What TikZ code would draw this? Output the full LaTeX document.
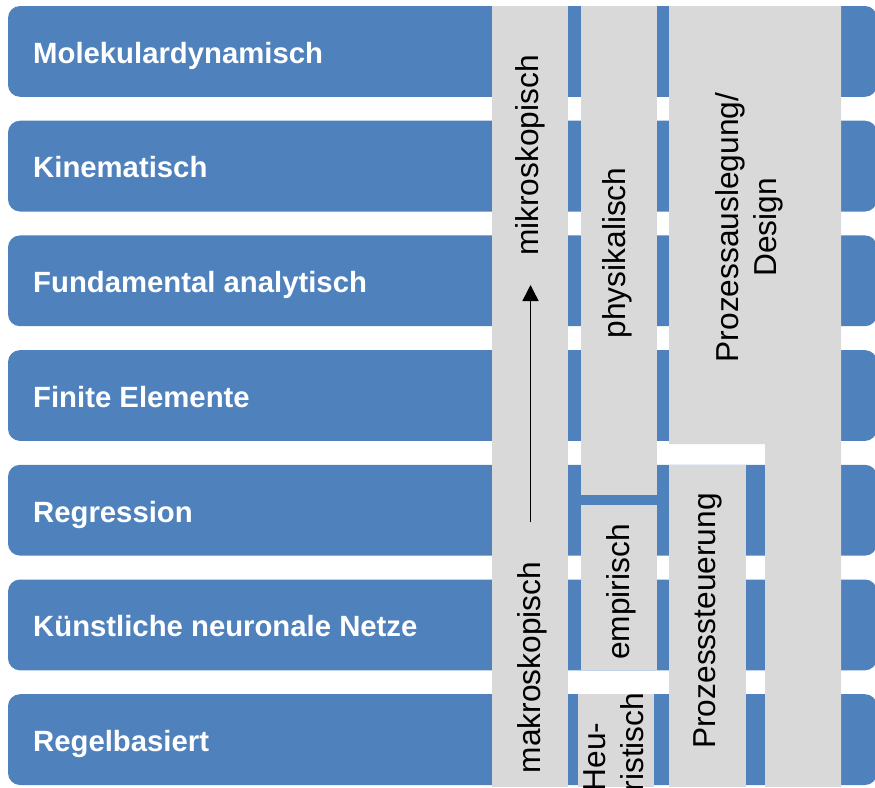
\documentclass[tikz,border=0pt]{standalone}
\usepackage{fontspec}
\setmainfont{Liberation Sans}
\usetikzlibrary{arrows.meta}
\definecolor{barblue}{HTML}{4F81BD}
\definecolor{colgray}{HTML}{D9D9D9}
\begin{document}
\begin{tikzpicture}[x=1pt,y=-1pt,
  bar/.style={fill=barblue, rounded corners=12pt},
  rowlabel/.style={anchor=base west, text=white, inner sep=0pt,
    font=\fontsize{29.3}{35}\selectfont\bfseries},
  graybox/.style={fill=colgray},
  coltext/.style={rotate=90, inner sep=0pt, text=black,
    font=\fontsize{31.7}{38}\selectfont},
  arrowline/.style={line width=1.5pt, -{Triangle[length=16pt,width=16pt]}}]
\useasboundingbox (0,0) rectangle (875,787);
% horizontal bars with labels
\foreach \i/\t in {0/Molekulardynamisch, 1/Kinematisch, 2/Fundamental analytisch,
                   3/Finite Elemente, 4/Regression, 5/Künstliche neuronale Netze,
                   6/Regelbasiert} {
  \pgfmathsetmacro\ytopv{6+114.7*\i}
  \fill[bar] (8,\ytopv) rectangle (877,\ytopv+90.8);
  \node[rowlabel] (row\i) at (33,\ytopv+57.2) {\t};
}
% gray columns
\fill[graybox] (492,6) rectangle (568,787);
\fill[graybox] (581,6) rectangle (657,495);
\fill[graybox] (581,505) rectangle (657,670);
\fill[graybox] (578,694) rectangle (654,787);
\fill[graybox] (669,6) -- (841,6) -- (841,787) -- (765,787) -- (765,444) -- (669,444) -- cycle;
\fill[graybox] (669,465) rectangle (746,787);
% column texts
\node[coltext, anchor=base] (mikro) at (538.5,155.5) {mikroskopisch};
\node[coltext, anchor=base] (makro) at (540,667.5) {makroskopisch};
\node[coltext, anchor=base] (phys) at (625,253) {physikalisch};
\node[coltext, anchor=base] (emp) at (629,592) {empirisch};
\node[coltext, anchor=base] (steu) at (715,621) {Prozesssteuerung};
\node[coltext, align=center, anchor=center] (ausl) at (749,227.5) {Prozessauslegung/\\Design};
\node[coltext, align=left, anchor=center] (heur) at (614,742) {Heu-\\ristisch};
% arrow
\coordinate (arrS) at (530.5,522);
\coordinate (arrE) at (530.5,285);
\draw[arrowline] (arrS) -- (arrE);
\end{tikzpicture}
\end{document}
